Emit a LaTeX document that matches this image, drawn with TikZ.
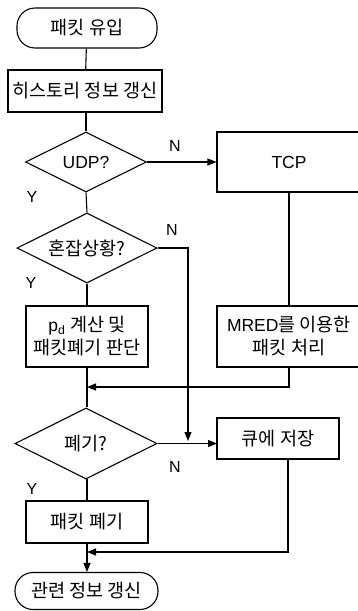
\documentclass[tikz,border=0pt]{standalone}
\usepackage{fontspec}
\setmainfont{Liberation Sans}
\newfontfamily\kr[Scale=1.06]{Noto Sans CJK KR}
\usetikzlibrary{shapes.geometric,arrows.meta}
\tikzset{
  base/.style={draw, line width=1.1pt, inner sep=0pt, align=center, font=\fontsize{17.5}{23}\selectfont},
  term/.style={base, rectangle, rounded corners=18pt},
  procbox/.style={base, rectangle},
  decision/.style={base, diamond, aspect=2},
  flow/.style={line width=1.1pt},
  arr/.style={flow, -{Triangle[length=9pt,width=7pt]}},
  lbl/.style={font=\fontsize{16}{18}\selectfont, inner sep=0pt}
}
\begin{document}
\begin{tikzpicture}[x=1pt,y=-1pt]
\useasboundingbox (0,0) rectangle (358,611);
\node[term, minimum width=140pt, minimum height=40pt] (start) at (87,28) {\kr 패킷 유입};
\node[procbox, minimum width=154pt, minimum height=42pt] (hist) at (85,91) {\kr 히스토리 정보 갱신};
\node[decision, minimum width=121pt, minimum height=60pt] (udp) at (86,162) {UDP?};
\node[procbox, minimum width=144pt, minimum height=60pt] (tcp) at (289,162) {TCP};
\node[decision, minimum width=140pt, minimum height=70pt] (cong) at (87,248) {\kr 혼잡상황?};
\node[procbox, minimum width=122pt, minimum height=61pt] (pd) at (87,336.5) {p\textsubscript{d} {\kr 계산 및}\\{\kr 패킷폐기 판단}};
\node[procbox, minimum width=144pt, minimum height=61pt] (mred) at (289,336.5) {MRED{\kr 를 이용한}\\{\kr 패킷 처리}};
\node[decision, minimum width=142pt, minimum height=71pt] (drop) at (86,443.5) {\kr 폐기?};
\node[procbox, minimum width=122pt, minimum height=41pt] (queue) at (278,438.5) {\kr 큐에 저장};
\node[procbox, minimum width=122pt, minimum height=42pt] (discard) at (87,522) {\kr 패킷 폐기};
\node[term, minimum width=143pt, minimum height=37pt] (end) at (86.5,591) {\kr 관련 정보 갱신};

\coordinate (cn1) at (188,248);
\coordinate (cn2) at (188,441);
\coordinate (m1) at (289,387);
\coordinate (m2) at (87,387);
\coordinate (q0) at (288,459);
\coordinate (q1) at (288,552);
\coordinate (q2) at (87,552);
\coordinate (qin) at (217,443.5);

\draw[flow] (start) -- (hist);
\draw[flow] (hist.south -| udp.north) -- (udp.north);
\draw[arr] (udp.east) -- (tcp.west);
\draw[flow] (udp.south) -- (cong.north);
\draw[flow] (tcp.south) -- (mred.north);
\draw[arr] (cong.east) -- (cn1) -- (cn2);
\draw[flow] (cong.south) -- (pd.north);
\draw[flow] (pd.south) -- (pd.south |- drop.north);
\draw[arr] (mred.south) -- (m1) -- (m2);
\draw[arr] (drop.east) -- (qin);
\draw[flow] (drop.south) -- (drop.south -| discard.north) -- (discard.north);
\draw[arr] (q0) -- (q1) -- (q2);
\draw[arr] (discard.south) -- (end.north -| discard.south);

\node[lbl] (n1) at (175,146) {N};
\node[lbl] (y1) at (32,197) {Y};
\node[lbl] (n2) at (172,230) {N};
\node[lbl] (y2) at (31,283) {Y};
\node[lbl] (n3) at (175,467) {N};
\node[lbl] (y3) at (32,489) {Y};
\end{tikzpicture}
\end{document}
